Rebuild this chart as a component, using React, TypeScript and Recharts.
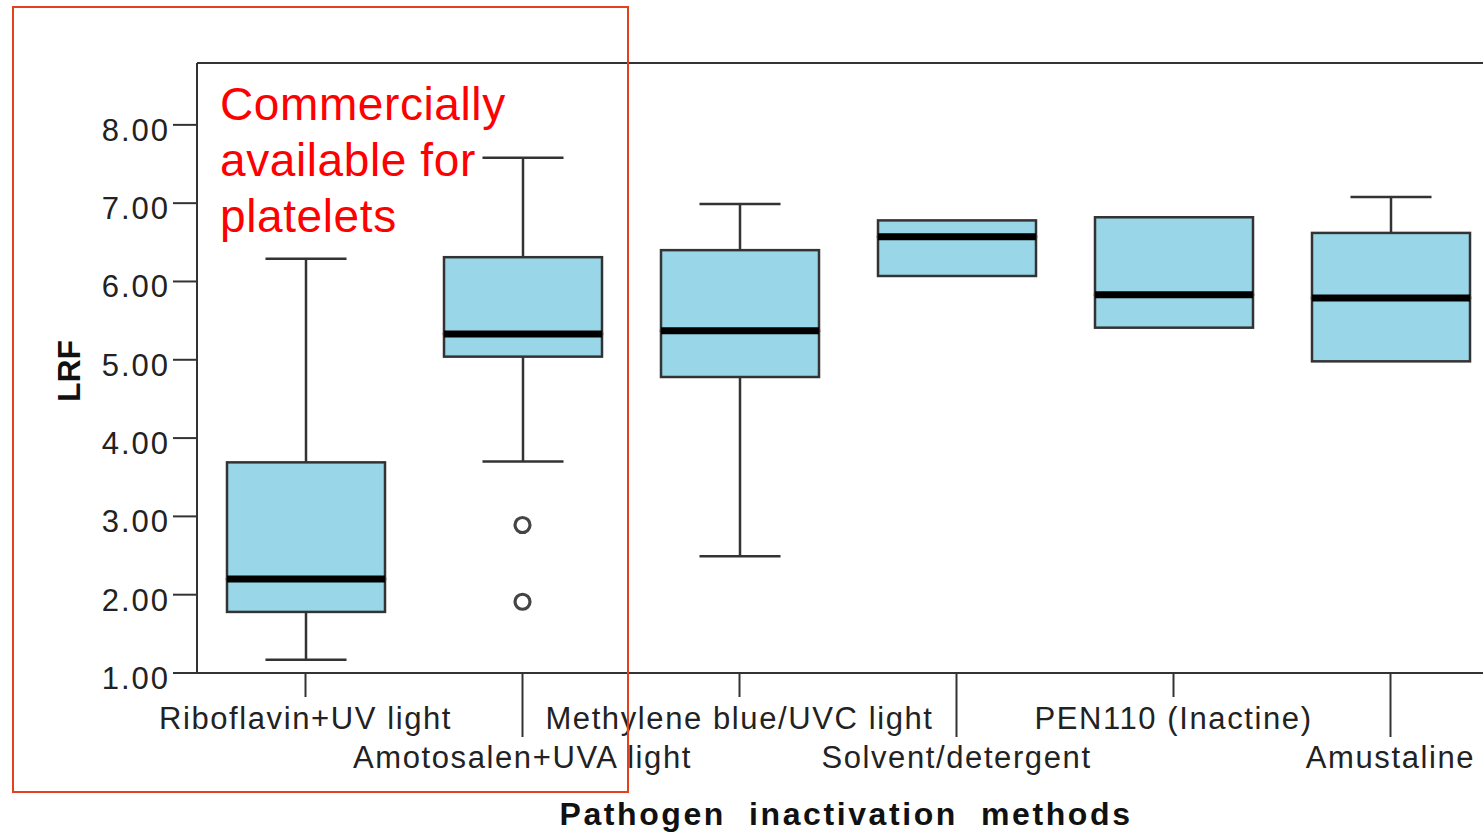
import React from "react";
import { ComposedChart, Bar, Line, XAxis, YAxis, ReferenceLine, Label } from "recharts";

const categories = [
  "Riboflavin+UV light",
  "Amotosalen+UVA light",
  "Methylene blue/UVC light",
  "Solvent/detergent",
  "PEN110 (Inactine)",
  "Amustaline",
];
const mins = [1.17, 3.7, 2.49, 6.07, 5.41, 4.98];
const q1s = [1.78, 5.04, 4.78, 6.07, 5.41, 4.98];
const medians = [2.2, 5.33, 5.37, 6.57, 5.83, 5.79];
const q3s = [3.69, 6.31, 6.4, 6.78, 6.82, 6.62];
const maxs = [6.29, 7.58, 6.99, 6.78, 6.82, 7.08];
const outliersA: (number | null)[] = [null, 2.89, null, null, null, null];
const outliersB: (number | null)[] = [null, 1.91, null, null, null, null];
const yTicks = [1, 2, 3, 4, 5, 6, 7, 8];
const yDomain: [number, number] = [1, 8.79];
const annotationLines = ["Commercially", "available for", "platelets"];
const xTitle = "Pathogen  inactivation  methods";
const yTitle = "LRF";

const data = categories.map((name, i) => ({
  name,
  base: mins[i],
  w1: q1s[i] - mins[i],
  b1: medians[i] - q1s[i],
  b2: q3s[i] - medians[i],
  w2: maxs[i] - q3s[i],
  oA: outliersA[i],
  oB: outliersB[i],
}));

const FONT = '"Liberation Sans", Arial, Helvetica, sans-serif';
const LINE = "#333333";
const FILL = "#99D7E8";
const TEXT = "#222222";
const CAP_RATIO = 0.513;

const LowerWhisker = (p: any) => {
  const { x, y, width, height } = p;
  if (!(height > 0.5)) return <g />;
  const cx = x + width / 2;
  const half = (width * CAP_RATIO) / 2;
  return (
    <g>
      <line x1={cx} x2={cx} y1={y} y2={y + height} stroke={LINE} strokeWidth={2.5} />
      <line x1={cx - half} x2={cx + half} y1={y + height} y2={y + height} stroke={LINE} strokeWidth={2.5} />
    </g>
  );
};

const UpperWhisker = (p: any) => {
  const { x, y, width, height } = p;
  if (!(height > 0.5)) return <g />;
  const cx = x + width / 2;
  const half = (width * CAP_RATIO) / 2;
  return (
    <g>
      <line x1={cx} x2={cx} y1={y} y2={y + height} stroke={LINE} strokeWidth={2.5} />
      <line x1={cx - half} x2={cx + half} y1={y} y2={y} stroke={LINE} strokeWidth={2.5} />
    </g>
  );
};

const LowerBox = (p: any) => {
  const { x, y, width, height } = p;
  if (!(height >= 0)) return <g />;
  return <rect x={x} y={y} width={width} height={height} fill={FILL} stroke={LINE} strokeWidth={2.5} />;
};

const UpperBox = (p: any) => {
  const { x, y, width, height } = p;
  if (!(height >= 0)) return <g />;
  const my = y + height;
  return (
    <g>
      <rect x={x} y={y} width={width} height={height} fill={FILL} stroke={LINE} strokeWidth={2.5} />
      <line x1={x} x2={x + width} y1={my} y2={my} stroke="#000" strokeWidth={7} />
    </g>
  );
};

const OutlierDot = (p: any) => {
  const { cx, cy, value, index } = p;
  if (value == null || cy == null || isNaN(cy)) return <g key={`o-${index}`} />;
  return <circle key={`o-${index}`} cx={cx} cy={cy} r={7.5} fill="#fff" stroke="#444" strokeWidth={3.2} />;
};

const XTick = (p: any) => {
  const { x, y, payload, index } = p;
  const second = index % 2 === 1;
  return (
    <g>
      <line x1={x} x2={x} y1={y} y2={y + (second ? 64 : 24)} stroke={LINE} strokeWidth={2} />
      <text
        x={x}
        y={y + (second ? 95 : 56)}
        textAnchor="middle"
        fontFamily={FONT}
        fontSize={31}
        letterSpacing={1.6}
        fill={TEXT}
      >
        {payload.value}
      </text>
    </g>
  );
};

const YTick = (p: any) => {
  const { x, y, payload } = p;
  return (
    <text x={x} y={y + 16} textAnchor="end" fontFamily={FONT} fontSize={31} letterSpacing={2} fill={TEXT}>
      {Number(payload.value).toFixed(2)}
    </text>
  );
};

export default function App() {
  return (
    <div
      style={{
        position: "absolute",
        left: 0,
        top: 0,
        width: 1483,
        height: 832,
        overflow: "hidden",
        background: "#fff",
      }}
    >
      <ComposedChart
        width={1510}
        height={832}
        data={data}
        margin={{ top: 63, right: 11, left: 0, bottom: 0 }}
        barSize={158}
      >
        <XAxis
          dataKey="name"
          type="category"
          height={159}
          interval={0}
          tickSize={0}
          tickMargin={0}
          tickLine={false}
          axisLine={{ stroke: LINE, strokeWidth: 2 }}
          tick={<XTick />}
        >
          <Label
            content={(lp: any) => {
              const vb = lp.viewBox || { x: 197, y: 673, width: 1302, height: 159 };
              return (
                <text
                  x={vb.x + vb.width / 2 - 2}
                  y={vb.y + 152}
                  textAnchor="middle"
                  fontFamily={FONT}
                  fontSize={32}
                  fontWeight="bold"
                  letterSpacing={2.6}
                  fill="#111"
                  style={{ whiteSpace: "pre" }}
                >
                  {xTitle}
                </text>
              );
            }}
          />
        </XAxis>
        <YAxis
          type="number"
          width={197}
          domain={yDomain}
          ticks={yTicks}
          allowDataOverflow
          tickSize={24}
          tickMargin={3}
          tickLine={{ stroke: LINE, strokeWidth: 2 }}
          axisLine={{ stroke: LINE, strokeWidth: 2 }}
          tick={<YTick />}
        >
          <Label
            content={(lp: any) => {
              const vb = lp.viewBox || { x: 0, y: 63, width: 197, height: 610 };
              const cy = vb.y + vb.height / 2 + 3;
              return (
                <text
                  x={69}
                  y={cy}
                  transform={`rotate(-90, 69, ${cy})`}
                  textAnchor="middle"
                  dominantBaseline="central"
                  fontFamily={FONT}
                  fontSize={32}
                  fontWeight="bold"
                  fill="#111"
                >
                  {yTitle}
                </text>
              );
            }}
          />
        </YAxis>
        <ReferenceLine y={yDomain[1]} stroke={LINE} strokeWidth={2} ifOverflow="extendDomain" />
        <Bar dataKey="base" stackId="box" shape={() => <g />} isAnimationActive={false} />
        <Bar dataKey="w1" stackId="box" shape={<LowerWhisker />} isAnimationActive={false} />
        <Bar dataKey="b1" stackId="box" shape={<LowerBox />} isAnimationActive={false} />
        <Bar dataKey="b2" stackId="box" shape={<UpperBox />} isAnimationActive={false} />
        <Bar dataKey="w2" stackId="box" shape={<UpperWhisker />} isAnimationActive={false} />
        <Line dataKey="oA" stroke="none" dot={OutlierDot} activeDot={false} isAnimationActive={false} />
        <Line dataKey="oB" stroke="none" dot={OutlierDot} activeDot={false} isAnimationActive={false} />
      </ComposedChart>
      <svg
        width={1483}
        height={832}
        style={{ position: "absolute", left: 0, top: 0, pointerEvents: "none" }}
      >
        <rect x={13} y={7} width={615} height={785} fill="none" stroke="#E4401F" strokeWidth={2} />
        {annotationLines.map((t, i) => (
          <text
            key={t}
            x={220}
            y={120 + i * 56}
            fontFamily={FONT}
            fontSize={46}
            letterSpacing={0.6}
            fill="#FF0000"
          >
            {t}
          </text>
        ))}
      </svg>
    </div>
  );
}
